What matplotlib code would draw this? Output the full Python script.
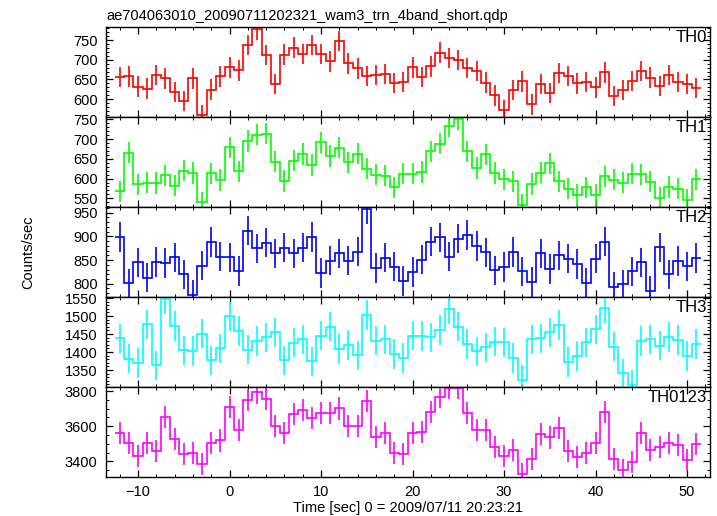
import matplotlib
matplotlib.use("Agg")
import matplotlib.pyplot as plt
import numpy as np
from matplotlib.ticker import MultipleLocator

plt.rcParams["font.family"] = ["Liberation Sans", "DejaVu Sans"]

TITLE = "ae704063010_20090711202321_wam3_trn_4band_short.qdp"
XLABEL = "Time [sec] 0 = 2009/07/11 20:23:21"
YLABEL = "Counts/sec"

# 1-s bins, centres from -12 to 51 s
time_sec = np.arange(-12, 52)

th0 = [656, 658, 632, 627, 661, 653, 618, 596, 653, 560, 624, 658, 681, 673, 737, 777,
       712, 639, 713, 731, 715, 737, 714, 696, 748, 691, 678, 659, 661, 664, 641, 644,
       681, 656, 683, 718, 704, 699, 679, 672, 642, 610, 573, 623, 645, 587, 639, 616,
       666, 659, 640, 644, 630, 668, 608, 623, 646, 672, 655, 633, 661, 644, 638, 628]
th1 = [568, 666, 585, 590, 589, 608, 582, 620, 614, 540, 613, 596, 679, 618, 695, 711,
       714, 643, 594, 645, 662, 634, 692, 657, 678, 641, 663, 625, 610, 607, 578, 612,
       612, 617, 669, 688, 733, 750, 669, 627, 661, 614, 598, 593, 534, 586, 615, 639,
       593, 574, 558, 578, 558, 606, 597, 590, 612, 611, 592, 552, 579, 574, 546, 598]
th2 = [899, 801, 845, 813, 846, 844, 856, 820, 777, 838, 888, 857, 856, 827, 912, 875,
       887, 864, 876, 864, 876, 899, 823, 849, 864, 849, 868, 957, 833, 855, 836, 806,
       825, 851, 889, 898, 857, 895, 903, 880, 866, 828, 835, 867, 826, 804, 864, 831,
       860, 853, 842, 802, 853, 889, 794, 799, 826, 845, 785, 877, 820, 848, 837, 854]
th3 = [1438, 1382, 1369, 1477, 1363, 1547, 1472, 1405, 1403, 1451, 1377, 1410, 1499,
       1458, 1407, 1431, 1441, 1455, 1377, 1426, 1435, 1374, 1446, 1471, 1409, 1419,
       1391, 1503, 1432, 1435, 1394, 1383, 1446, 1444, 1441, 1461, 1519, 1471, 1422,
       1402, 1413, 1429, 1427, 1384, 1322, 1435, 1438, 1455, 1475, 1372, 1389, 1427,
       1463, 1523, 1415, 1341, 1308, 1431, 1435, 1418, 1442, 1433, 1389, 1422]
th0123 = [3559, 3506, 3428, 3506, 3457, 3652, 3525, 3440, 3447, 3387, 3502, 3519, 3711,
          3576, 3751, 3792, 3753, 3599, 3561, 3667, 3690, 3645, 3673, 3673, 3701, 3599,
          3599, 3741, 3538, 3561, 3449, 3442, 3563, 3565, 3679, 3764, 3815, 3815, 3673,
          3578, 3578, 3481, 3430, 3463, 3326, 3411, 3555, 3536, 3591, 3459, 3423, 3449,
          3502, 3682, 3413, 3351, 3396, 3559, 3463, 3480, 3502, 3491, 3408, 3497]

panel_names = ["TH0", "TH1", "TH2", "TH3", "TH0123"]
panel_values = [th0, th1, th2, th3, th0123]
panel_errors = [26, 27, 31, 41, 63]
panel_colors = ["#ff0000", "#00ff00", "#0000ff", "#00ffff", "#ff00ff"]
panel_ylims = [(555, 783), (528, 756), (772, 962), (1303, 1553), (3311, 3823)]
panel_major = [50, 50, 50, 50, 200]
panel_minor = [10, 10, 10, 10, 50]

fig = plt.figure(figsize=(7.17, 5.16), dpi=100)
left, right, top, bottom = 0.1478, 0.9902, 0.9477, 0.0756
h = (top - bottom) / 5
edges = np.append(time_sec - 0.5, time_sec[-1] + 0.5)

axes = []
for i in range(5):
    ax = fig.add_axes([left, top - (i + 1) * h, right - left, h])
    vals = np.asarray(panel_values[i], dtype=float)
    ax.stairs(vals, edges, baseline=None, color=panel_colors[i], lw=1.2)
    ax.errorbar(time_sec, vals, yerr=panel_errors[i], fmt="none",
                ecolor=panel_colors[i], elinewidth=1.2, capsize=0)
    ax.set_xlim(-13.5, 52.5)
    ax.set_ylim(*panel_ylims[i])
    ax.xaxis.set_major_locator(MultipleLocator(10))
    ax.xaxis.set_minor_locator(MultipleLocator(2))
    ax.yaxis.set_major_locator(MultipleLocator(panel_major[i]))
    ax.yaxis.set_minor_locator(MultipleLocator(panel_minor[i]))
    ax.tick_params(which="both", direction="in", top=True, right=True,
                   labelsize=10.5, pad=6)
    ax.tick_params(which="major", length=5, width=0.9)
    ax.tick_params(which="minor", length=2.5, width=0.7)
    for s in ax.spines.values():
        s.set_linewidth(1.0)
    if i < 4:
        ax.tick_params(labelbottom=False)
    ax.text(0.995, 0.97, panel_names[i], transform=ax.transAxes,
            ha="right", va="top", fontsize=12)
    axes.append(ax)

axes[0].set_title(TITLE, loc="left", fontsize=10.5, pad=5)
axes[-1].set_xlabel(XLABEL, fontsize=10.5, labelpad=1)
fig.text(0.04, (top + bottom) / 2, YLABEL, rotation=90, ha="center",
         va="center", fontsize=10.5)

fig.savefig("out.png", dpi=100)
